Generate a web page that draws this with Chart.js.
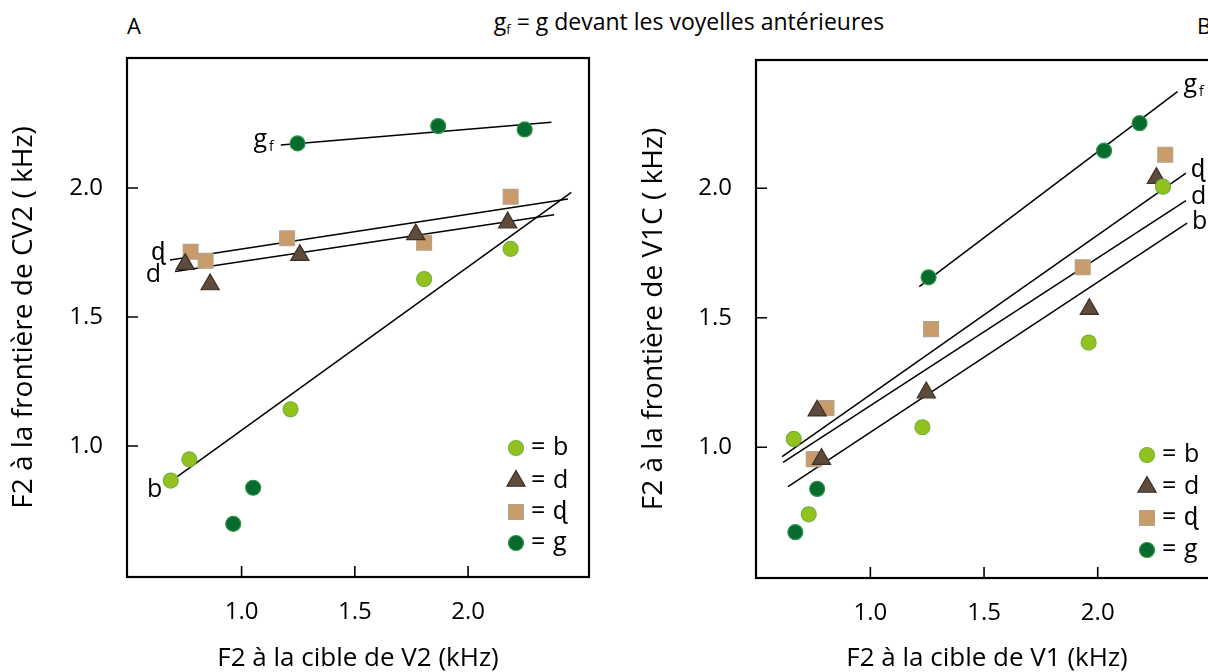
<!DOCTYPE html>
<html>
<head>
  <meta charset="utf-8">
  <title>F2 frontière / cible</title>
  <style>
    body { margin: 0; background: #fff; }
    #figure { position: relative; width: 1208px; height: 672px; overflow: hidden; background: #fff;
              font-family: 'Open Sans', sans-serif; color: #000; }
    #figure canvas { position: absolute; top: 0; }
    #chartA { left: 0; }
    #chartB { left: 620px; }
    .txt { position: absolute; font-size: 22px; line-height: 1; white-space: nowrap; }
    #title { left: 689px; top: 10px; transform: translateX(-50%); font-size: 23px; }
    #title sub { font-size: 13px; vertical-align: -4px; }
  </style>
</head>
<body>
  <div id="figure">
    <div class="txt" style="left:127px; top:14px;">A</div>
    <div class="txt" id="title">g<sub>f</sub> = g devant les voyelles antérieures</div>
    <div class="txt" style="left:1197px; top:14px;">B</div>
    <canvas id="chartA" width="620" height="672"></canvas>
    <canvas id="chartB" width="640" height="672"></canvas>
  </div>
  <script src="https://cdn.jsdelivr.net/npm/chart.js"></script>
  <script>
    // tick values shown on both axes (kHz)
    const tickValues = [1.0, 1.5, 2.0];

    // Panel A : F2 à la cible de V2 (x) / F2 à la frontière de CV2 (y)
    const aB_x  = [0.687, 0.769, 1.216, 1.806, 2.188];
    const aB_y  = [0.866, 0.948, 1.142, 1.647, 1.764];
    const aD_x  = [0.751, 0.861, 1.257, 1.769, 2.175];
    const aD_y  = [1.705, 1.626, 1.740, 1.820, 1.866];
    const aDr_x = [0.775, 0.841, 1.201, 1.806, 2.188];
    const aDr_y = [1.753, 1.718, 1.805, 1.788, 1.966];
    const aG_x  = [0.963, 1.051];
    const aG_y  = [0.698, 0.838];
    const aGf_x = [1.247, 1.868, 2.250];
    const aGf_y = [2.173, 2.240, 2.227];
    // regression lines, start and end
    const aLineGf_x = [1.173, 2.368], aLineGf_y = [2.167, 2.255];
    const aLineDr_x = [0.684, 2.441], aLineDr_y = [1.721, 1.957];
    const aLineD_x  = [0.706, 2.380], aLineD_y  = [1.676, 1.896];
    const aLineB_x  = [0.716, 2.456], aLineB_y  = [0.881, 1.983];

    // Panel B : F2 à la cible de V1 (x) / F2 à la frontière de V1C (y)
    const bB_x  = [0.663, 0.729, 1.229, 1.960, 2.287];
    const bB_y  = [1.032, 0.741, 1.077, 1.404, 2.006];
    const bD_x  = [0.766, 0.785, 1.246, 1.963, 2.258];
    const bD_y  = [1.141, 0.954, 1.211, 1.533, 2.039];
    const bDr_x = [0.751, 0.807, 1.267, 1.934, 2.297];
    const bDr_y = [0.954, 1.151, 1.456, 1.695, 2.129];
    const bG_x  = [0.670, 0.766];
    const bG_y  = [0.672, 0.839];
    const bGf_x = [1.256, 2.028, 2.184];
    const bGf_y = [1.656, 2.145, 2.251];
    const bLineGf_x = [1.215, 2.351], bLineGf_y = [1.620, 2.373];
    const bLineDr_x = [0.612, 2.388], bLineDr_y = [0.964, 2.058];
    const bLineD_x  = [0.616, 2.388], bLineD_y  = [0.941, 1.952];
    const bLineB_x  = [0.638, 2.393], bLineB_y  = [0.848, 1.865];

    const pts = (xs, ys) => xs.map((x, i) => ({ x: x, y: ys[i] }));

    const FONT = "'Open Sans', sans-serif";
    const marker = {
      b:  { pointStyle: 'circle',   pointRadius: 7.5,  backgroundColor: '#93c11f', borderColor: '#72b43a' },
      d:  { pointStyle: 'triangle', pointRadius: 10.5, backgroundColor: '#5e4b3b', borderColor: '#3e3026' },
      dr: { pointStyle: 'rect',     pointRadius: 10.5, backgroundColor: '#c89c6a', borderColor: '#b8a28c' },
      g:  { pointStyle: 'circle',   pointRadius: 7.5,  backgroundColor: '#076a2e', borderColor: '#2f9446' }
    };

    function pointSet(label, data, m) {
      return Object.assign({ label: label, data: data, order: 1, borderWidth: 1.2,
        pointHoverRadius: m.pointRadius, showLine: false }, m);
    }
    function lineSet(label, data) {
      return { label: label, data: data, order: 2, showLine: true, borderColor: '#000',
        borderWidth: 1.5, pointRadius: 0, pointHoverRadius: 0, fill: false };
    }

    function drawLabel(ctx, l, x, y) {
      ctx.font = '25px ' + FONT;
      const w1 = ctx.measureText(l.text).width;
      ctx.font = '14px ' + FONT;
      const w2 = l.sub ? ctx.measureText(l.sub).width + 2 : 0;
      let x0 = l.align === 'right' ? x - w1 - w2 : x;
      ctx.textAlign = 'left';
      ctx.textBaseline = 'alphabetic';
      ctx.font = '25px ' + FONT;
      ctx.fillText(l.text, x0, y + 6);
      if (l.sub) {
        ctx.font = '14px ' + FONT;
        ctx.fillText(l.sub, x0 + w1 + 2, y + 10);
      }
    }

    // frame, inward ticks, line labels and in-plot legend
    const decor = {
      id: 'decor',
      afterDatasetsDraw(chart, args, opts) {
        const ctx = chart.ctx, a = chart.chartArea;
        const xs = chart.scales.x, ys = chart.scales.y;
        ctx.save();
        ctx.strokeStyle = '#000';
        ctx.lineWidth = 1.6;
        ctx.beginPath();
        xs.ticks.forEach(t => {
          const px = xs.getPixelForValue(t.value);
          ctx.moveTo(px, a.bottom); ctx.lineTo(px, a.bottom - 11);
        });
        ys.ticks.forEach(t => {
          const py = ys.getPixelForValue(t.value);
          ctx.moveTo(a.left, py); ctx.lineTo(a.left + 11, py);
        });
        ctx.stroke();
        ctx.lineWidth = 2.2;
        ctx.strokeRect(a.left, a.top, a.right - a.left, a.bottom - a.top);

        ctx.fillStyle = '#000';
        opts.lineLabels.forEach(l => {
          const p = chart.getDatasetMeta(l.ds).data[l.end];
          drawLabel(ctx, l, p.x + l.dx, p.y + l.dy);
        });

        const lg = opts.legend;
        lg.items.forEach((dsIndex, i) => {
          const ds = chart.data.datasets[dsIndex];
          const px = a.left + lg.dx, py = a.bottom + lg.dy[i];
          ctx.fillStyle = ds.backgroundColor;
          ctx.strokeStyle = ds.borderColor;
          ctx.lineWidth = ds.borderWidth;
          Chart.helpers.drawPoint(ctx, { pointStyle: ds.pointStyle, radius: ds.pointRadius,
            rotation: 0, borderWidth: ds.borderWidth }, px, py);
          ctx.fillStyle = '#000';
          ctx.font = '25px ' + FONT;
          ctx.textAlign = 'left';
          ctx.textBaseline = 'middle';
          ctx.fillText('=', px + 15, py);
          ctx.fillText(ds.label, px + 37, py);
        });
        ctx.restore();
      }
    };

    function makePanel(id, p) {
      const fixedTicks = s => { s.ticks = tickValues.map(v => ({ value: v })); };
      return new Chart(document.getElementById(id), {
        type: 'scatter',
        data: { datasets: p.datasets },
        plugins: [decor],
        options: {
          responsive: false,
          animation: false,
          events: [],
          layout: { padding: p.padding },
          plugins: {
            legend: { display: false },
            tooltip: { enabled: false },
            decor: { lineLabels: p.lineLabels, legend: p.legend }
          },
          scales: {
            x: {
              type: 'linear', min: p.xRange[0], max: p.xRange[1],
              afterBuildTicks: fixedTicks,
              afterFit: s => { s.height = p.xHeight; },
              grid: { display: false, drawTicks: false },
              border: { display: false },
              ticks: { padding: 21, color: '#000', font: { family: FONT, size: 24 },
                callback: v => v.toFixed(1) },
              title: { display: true, text: p.xTitle, color: '#000', padding: 0,
                font: { family: FONT, size: 26, lineHeight: 1 } }
            },
            y: {
              type: 'linear', min: p.yRange[0], max: p.yRange[1],
              afterBuildTicks: fixedTicks,
              afterFit: s => { s.width = p.yWidth; },
              grid: { display: false, drawTicks: false },
              border: { display: false },
              ticks: { padding: 24, color: '#000', font: { family: FONT, size: 24 },
                callback: v => v.toFixed(1) },
              title: { display: true, text: p.yTitle, color: '#000', padding: { top: p.yTitlePad, bottom: 0 },
                font: { family: FONT, size: 28, lineHeight: 1.1 } }
            }
          }
        }
      });
    }

    makePanel('chartA', {
      xRange: [0.494, 2.534], yRange: [0.492, 2.504],
      padding: { top: 58, right: 31, bottom: 0, left: 0 },
      yWidth: 127, xHeight: 95, yTitlePad: 9,
      xTitle: 'F2 à la cible de V2 (kHz)',
      yTitle: 'F2 à la frontière de CV2 ( kHz)',
      datasets: [
        pointSet('b', pts(aB_x, aB_y), marker.b),
        pointSet('d', pts(aD_x, aD_y), marker.d),
        pointSet('ɖ', pts(aDr_x, aDr_y), marker.dr),
        pointSet('g', pts(aG_x, aG_y), marker.g),
        pointSet('gf', pts(aGf_x, aGf_y), marker.g),
        lineSet('ligne gf', pts(aLineGf_x, aLineGf_y)),
        lineSet('ligne ɖ', pts(aLineDr_x, aLineDr_y)),
        lineSet('ligne d', pts(aLineD_x, aLineD_y)),
        lineSet('ligne b', pts(aLineB_x, aLineB_y))
      ],
      lineLabels: [
        { ds: 5, end: 0, text: 'g', sub: 'f', align: 'right', dx: -7, dy: -4 },
        { ds: 6, end: 0, text: 'ɖ', align: 'right', dx: -5, dy: -6 },
        { ds: 7, end: 0, text: 'd', align: 'right', dx: -14, dy: 4 },
        { ds: 8, end: 0, text: 'b', align: 'right', dx: -15, dy: 14 }
      ],
      legend: { items: [0, 1, 2, 3], dx: 389, dy: [-129, -96, -65, -34] }
    });

    makePanel('chartB', {
      xRange: [0.497, 2.529], yRange: [0.495, 2.495],
      padding: { top: 60, right: 42, bottom: 0, left: 0 },
      yWidth: 136, xHeight: 94, yTitlePad: 19,
      xTitle: 'F2 à la cible de V1 (kHz)',
      yTitle: 'F2 à la frontière de V1C ( kHz)',
      datasets: [
        pointSet('b', pts(bB_x, bB_y), marker.b),
        pointSet('d', pts(bD_x, bD_y), marker.d),
        pointSet('ɖ', pts(bDr_x, bDr_y), marker.dr),
        pointSet('g', pts(bG_x, bG_y), marker.g),
        pointSet('gf', pts(bGf_x, bGf_y), marker.g),
        lineSet('ligne gf', pts(bLineGf_x, bLineGf_y)),
        lineSet('ligne ɖ', pts(bLineDr_x, bLineDr_y)),
        lineSet('ligne d', pts(bLineD_x, bLineD_y)),
        lineSet('ligne b', pts(bLineB_x, bLineB_y))
      ],
      lineLabels: [
        { ds: 5, end: 1, text: 'g', sub: 'f', align: 'left', dx: 6, dy: -6 },
        { ds: 6, end: 1, text: 'ɖ', align: 'left', dx: 5, dy: -2 },
        { ds: 7, end: 1, text: 'd', align: 'left', dx: 5, dy: -3 },
        { ds: 8, end: 1, text: 'b', align: 'left', dx: 5, dy: 0 }
      ],
      legend: { items: [0, 1, 2, 3], dx: 391, dy: [-123, -91, -60, -28] }
    });
  </script>
</body>
</html>
